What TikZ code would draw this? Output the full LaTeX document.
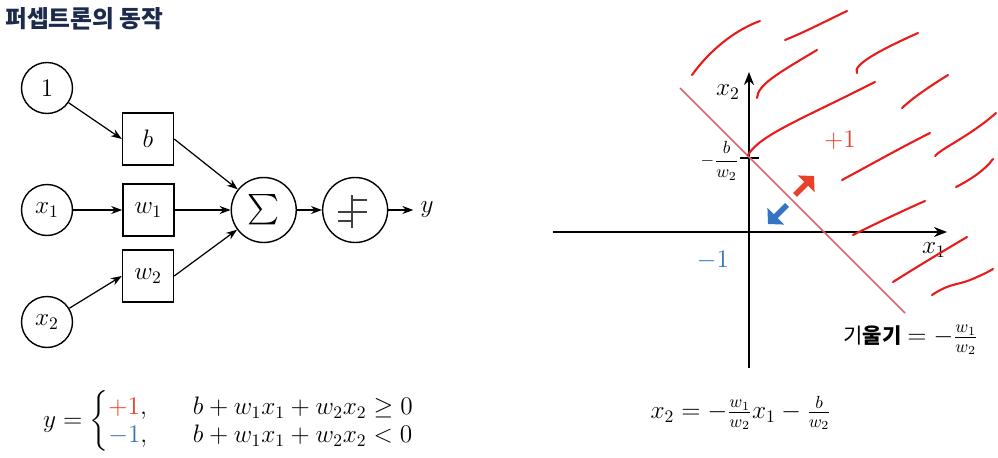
\documentclass[tikz,border=0pt]{standalone}
\usepackage{amsmath}
\usepackage{amssymb}
\usepackage{fontspec}
\newfontfamily\kofont{Noto Sans CJK KR}
\usepackage{tikz}
\usetikzlibrary{arrows.meta,positioning}
\definecolor{titulo}{HTML}{1C2A4B}
\definecolor{vermelho}{HTML}{E8402A}
\definecolor{azul}{HTML}{3474C4}
\definecolor{rosa}{HTML}{DC6472}
\definecolor{traco}{HTML}{E81C1C}
\newcommand{\pos}{\textcolor{vermelho}{+1}}
\newcommand{\negv}{\textcolor{azul}{-1}}

\begin{document}
\begin{tikzpicture}[
  x=0.02cm,y=-0.02cm,
  node distance=0.98cm,
  entrada/.style={draw,circle,line width=0.8pt,minimum size=1.02cm,inner sep=0pt,font=\Large},
  peso/.style={draw,line width=0.8pt,minimum width=1.02cm,minimum height=1.04cm,inner sep=0pt,font=\Large},
  soma/.style={draw,circle,line width=0.8pt,minimum size=1.3cm,inner sep=0pt},
  seta/.style={-{Stealth[length=2.2mm,width=1.6mm]},line width=0.7pt},
  eixo/.style={-{Stealth[length=2.6mm,width=2mm]},line width=1.1pt},
  risco/.style={traco,line width=1.2pt,line cap=round},
  gorda/.style={line width=3.2pt,-{Triangle[length=2.2mm,width=4.6mm]}}
]
  \useasboundingbox (0,0) rectangle (998,457);
  % title
  \node[anchor=west,text=titulo,font=\kofont\bfseries\fontsize{13.5}{16}\selectfont,inner sep=0pt] (title) at (5,19) {퍼셉트론의 동작};

  % perceptron network
  \node[entrada] (one) at (47,88) {$1$};
  \node[entrada] (x1) at (47,210) {$x_1$};
  \node[entrada] (x2) at (47,322) {$x_2$};
  \node[peso] (b) at (148,139) {$b$};
  \node[peso,right=of x1] (w1) {$w_1$};
  \node[peso] (w2) at (148,276) {$w_2$};
  \node[soma,right=1.12cm of w1] (sum) {\LARGE$\sum$};
  \node[soma,right=0.5cm of sum] (step) {};
  \coordinate[right=0.5cm of step] (out);
  \node[anchor=west,font=\Large,inner sep=4pt] (y) at (out) {$y$};
  \draw[seta] (one) -- (b.west);
  \draw[seta] (x1) -- (w1);
  \draw[seta] (x2) -- (w2.west);
  \draw[seta] (b.east) -- (sum);
  \draw[seta] (w1) -- (sum);
  \draw[seta] (w2.east) -- (sum);
  \draw[seta] (sum) -- (step);
  \draw[seta] (step) -- (out);
  % step symbol
  \begin{scope}[line width=1.1pt,black!75]
    \draw (338,212) -- (367,212);
    \draw (352,195) -- (352,228);
    \draw (338,221) -- (352,221);
    \draw (352,200) -- (367,200);
  \end{scope}

  \node[font=\Large] (rule) at (229,421) {$y=\begin{cases}\pos, & \hspace{0.8em} b+w_1x_1+w_2x_2\geq 0\\[-0.4em] \negv, & \hspace{0.8em} b+w_1x_1+w_2x_2<0\end{cases}$};

  % decision boundary
  \draw[eixo] (553,232) -- (947,232);
  \draw[eixo] (749,368) -- (749,72);
  \node[font=\Large] (lx2) at (728,92) {$x_2$};
  \node[font=\Large] (lx1) at (934,250) {$x_1$};
  \draw[line width=1.1pt] (740,158) -- (759,158);
  \node[anchor=east,inner sep=1pt] (lb) at (741,161) {$-\dfrac{b}{w_2}$};
  \draw[rosa,line width=1pt] (680,88) -- (905,313);
  \node[text=vermelho,font=\Large] (plus) at (840,140) {$+1$};
  \node[text=azul,font=\Large] (minus) at (713,260) {$-1$};
  \draw[gorda,vermelho] (795,195) -- (814,176);
  \draw[gorda,azul] (787,205) -- (768,224);

  % hand drawn strokes
  \draw[risco] (692,75) .. controls (710,50) and (735,30) .. (760,21);
  \draw[risco] (785,40) .. controls (805,32) and (828,20) .. (847,11);
  \draw[risco] (757,98) .. controls (758,85) and (775,75) .. (817,50);
  \draw[risco] (857,73) .. controls (852,65) and (880,50) .. (918,33);
  \draw[risco] (748,155) .. controls (760,135) and (800,120) .. (875,82);
  \draw[risco] (902,108) .. controls (915,96) and (932,85) .. (948,75);
  \draw[risco] (842,180) .. controls (870,165) and (900,148) .. (930,133);
  \draw[risco] (935,156) .. controls (942,148) and (970,136) .. (996,113);
  \draw[risco] (956,187) .. controls (970,180) and (985,170) .. (993,159);
  \draw[risco] (853,235) .. controls (875,224) and (900,212) .. (925,201);
  \draw[risco] (893,282) .. controls (915,268) and (945,250) .. (967,237);
  \draw[risco] (932,295) .. controls (950,283) and (958,285) .. (970,280) .. controls (980,276) and (988,272) .. (993,269);

  \node[anchor=west,inner sep=0pt] (slope) at (843,340) {{\kofont\large 기\textbf{울기}} {\Large$=-\frac{w_1}{w_2}$}};
  \node[font=\Large] (line) at (741,413) {$x_2=-\frac{w_1}{w_2}x_1-\frac{b}{w_2}$};
\end{tikzpicture}
\end{document}
